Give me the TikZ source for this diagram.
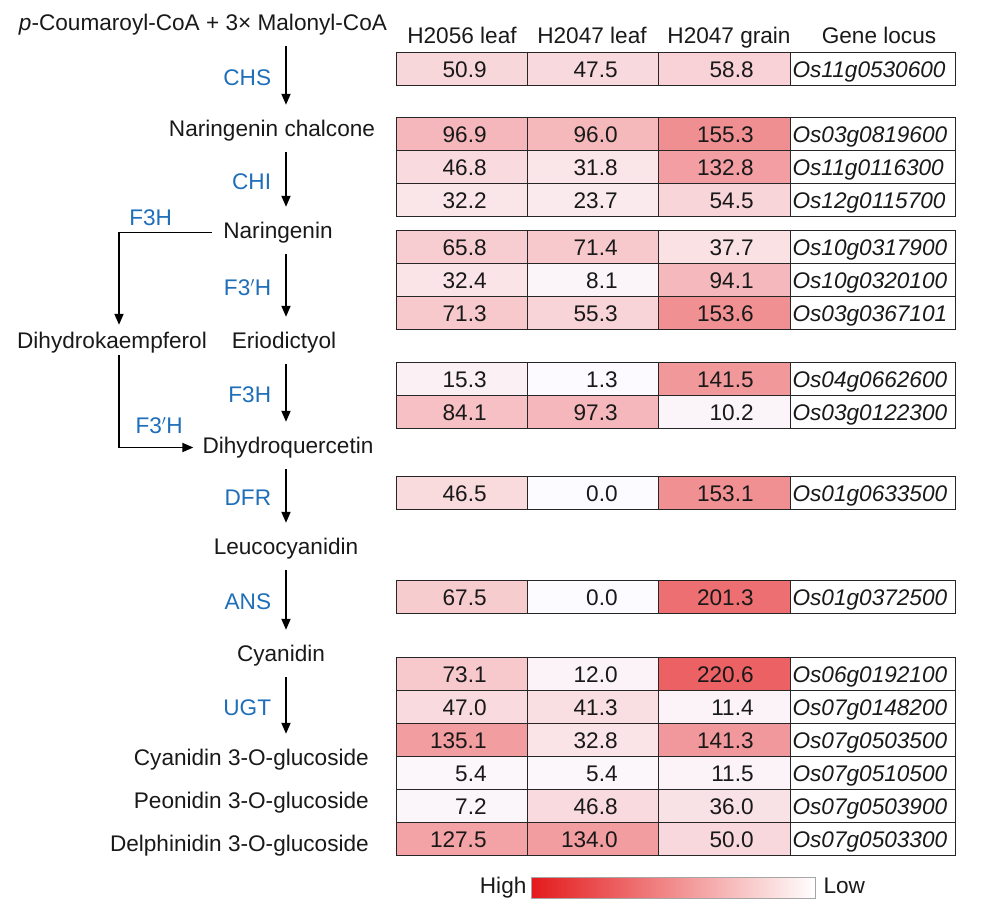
\documentclass[tikz,border=0pt]{standalone}
\usepackage{fontspec}
\setmainfont{Liberation Sans}
\usetikzlibrary{arrows.meta,positioning,calc}

\definecolor{hot}{RGB}{228,26,28}
\definecolor{cold}{RGB}{252,251,255}
\definecolor{enzblue}{RGB}{30,110,185}

% one heat-map row: name, top edge, three values, gene locus
\newcommand{\exprow}[6]{%
  \pgfmathsetmacro{\vA}{#3*0.31}%
  \pgfmathsetmacro{\vB}{#4*0.31}%
  \pgfmathsetmacro{\vC}{#5*0.31}%
  \node[cell, fill=hot!\vA!cold] (#1a) at (396,#2)
    {\hbox to 131pt{\hfil #3\hskip 41pt}};
  \node[cell, fill=hot!\vB!cold] (#1b) at (527,#2)
    {\hbox to 131pt{\hfil #4\hskip 41pt}};
  \node[cell, fill=hot!\vC!cold] (#1c) at (658,#2)
    {\hbox to 132pt{\hfil #5\hskip 37pt}};
  \node[cell, fill=white] (#1g) at (790,#2)
    {\hbox to 165pt{\hskip 2pt\textit{#6}\hfil}};
}

\begin{document}
\begin{tikzpicture}[
  x=1pt, y=-1pt,
  every node/.style={font=\fontsize{22.6}{27}\selectfont,
    text=black!90},
  cmpd/.style={anchor=base, inner sep=0pt, text height=16pt,
    text depth=5pt},
  enz/.style={text=enzblue, inner sep=0pt},
  rxn/.style={-{Triangle[length=11pt,width=9pt]}, line width=1.8pt,
    shorten <=11pt, shorten >=15pt},
  brarr/.style={-{Triangle[length=11pt,width=9pt]}, line width=1.8pt},
  cell/.style={draw=black!85, line width=1.2pt, anchor=north west,
    inner sep=0pt, minimum height=33pt, text height=18pt,
    text depth=2pt},
  hdr/.style={anchor=base, inner sep=0pt},
]
  \useasboundingbox (0,0) rectangle (982,918);
  \coordinate (ax) at (286,0);
  \coordinate (bx) at (119,0);
  % Pathway
  \node[cmpd] (pcoa) at (203,30)
    {\textit{p}-Coumaroyl-CoA + 3× Malonyl-CoA};
  \node[cmpd] (nc) at (272,136) {Naringenin chalcone};
  \node[cmpd] (ng) at (278,238) {Naringenin};
  \node[cmpd] (dhk) at (112,348) {Dihydrokaempferol};
  \node[cmpd] (er) at (284,348) {Eriodictyol};
  \node[cmpd] (dhq) at (288,453) {Dihydroquercetin};
  \node[cmpd] (lc) at (286,554) {Leucocyanidin};
  \node[cmpd] (cy) at (281,661) {Cyanidin};
  \node[cmpd, anchor=base east] (c3g) at (369,765)
    {Cyanidin 3-O-glucoside};
  \node[cmpd, anchor=base east] (p3g) at (369,808)
    {Peonidin 3-O-glucoside};
  \node[cmpd, anchor=base east] (d3g) at (369,851)
    {Delphinidin 3-O-glucoside};
  % Reactions
  \draw[rxn] (pcoa.south -| ax) -- (nc.north -| ax)
    node[enz, midway, left=14pt] {CHS};
  \draw[rxn] (nc.south -| ax) -- (ng.north -| ax)
    node[enz, midway, left=14pt] {CHI};
  \draw[rxn] (ng.south -| ax) -- (er.north -| ax)
    node[enz, midway, left=14pt] {F3$'$H};
  \draw[rxn] (er.south -| ax) -- (dhq.north -| ax)
    node[enz, midway, left=14pt] {F3H};
  \draw[rxn] (dhq.south -| ax) -- (lc.north -| ax)
    node[enz, midway, left=14pt] {DFR};
  \draw[rxn] (lc.south -| ax) -- (cy.north -| ax)
    node[enz, midway, left=14pt] {ANS};
  \draw[rxn] (cy.south -| ax) -- (c3g.north -| ax)
    node[enz, midway, left=14pt] {UGT};
  % Side branch
  \draw[brarr] ([xshift=-11pt]ng.west) -| ([yshift=7pt]bx |- dhk.north)
    node[enz, pos=0.33, above=6pt] {F3H};
  \draw[brarr] ([yshift=-2pt]bx |- dhk.south) |- ([xshift=-9pt]dhq.west)
    node[enz, pos=0.77, above=13pt] {F3$'$H};
  % Column headers
  \node[hdr] (h1) at (462,43) {H2056 leaf};
  \node[hdr] (h2) at (592,43) {H2047 leaf};
  \node[hdr] (h3) at (729,43) {H2047 grain};
  \node[hdr] (h4) at (879,43) {Gene locus};
  % Heat map
  \exprow{chs}{52}{50.9}{47.5}{58.8}{Os11g0530600}
  \exprow{chiA}{117}{96.9}{96.0}{155.3}{Os03g0819600}
  \exprow{chiB}{150}{46.8}{31.8}{132.8}{Os11g0116300}
  \exprow{chiC}{183}{32.2}{23.7}{54.5}{Os12g0115700}
  \exprow{fphA}{230}{65.8}{71.4}{37.7}{Os10g0317900}
  \exprow{fphB}{263}{32.4}{8.1}{94.1}{Os10g0320100}
  \exprow{fphC}{296}{71.3}{55.3}{153.6}{Os03g0367101}
  \exprow{fhA}{362}{15.3}{1.3}{141.5}{Os04g0662600}
  \exprow{fhB}{395}{84.1}{97.3}{10.2}{Os03g0122300}
  \exprow{dfr}{476}{46.5}{0.0}{153.1}{Os01g0633500}
  \exprow{ans}{580}{67.5}{0.0}{201.3}{Os01g0372500}
  \exprow{ugtA}{657}{73.1}{12.0}{220.6}{Os06g0192100}
  \exprow{ugtB}{690}{47.0}{41.3}{11.4}{Os07g0148200}
  \exprow{ugtC}{723}{135.1}{32.8}{141.3}{Os07g0503500}
  \exprow{ugtD}{756}{5.4}{5.4}{11.5}{Os07g0510500}
  \exprow{ugtE}{789}{7.2}{46.8}{36.0}{Os07g0503900}
  \exprow{ugtF}{822}{127.5}{134.0}{50.0}{Os07g0503300}
  % Colour key
  \node[draw=black!35, line width=0.8pt, inner sep=0pt,
    minimum width=284pt, minimum height=21pt,
    left color=hot, right color=white] (key) at (673,887.5) {};
  \node[cmpd, anchor=east, left=4pt of key] (khi) {High};
  \node[cmpd, anchor=west, right=8pt of key] (klo) {Low};
\end{tikzpicture}
\end{document}
